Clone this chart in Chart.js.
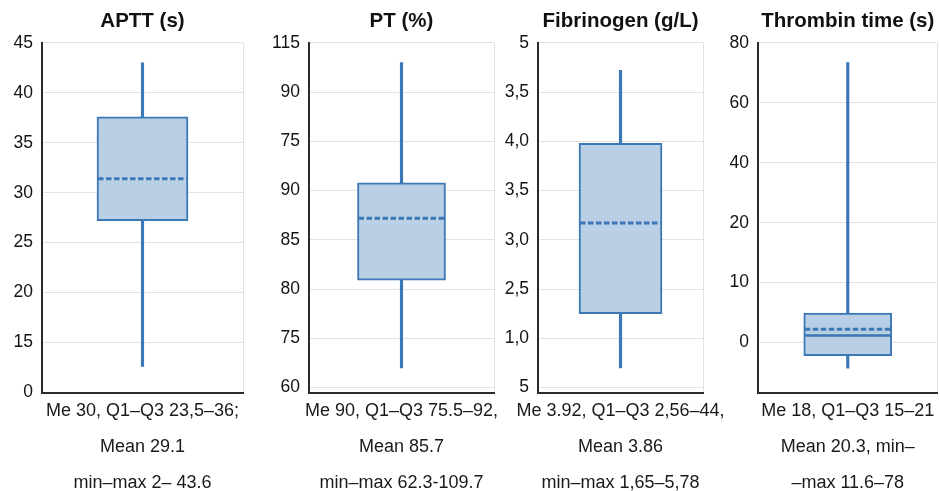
<!DOCTYPE html>
<html><head><meta charset="utf-8">
<script src="https://cdn.jsdelivr.net/npm/chart.js@4.4.0/dist/chart.umd.min.js"></script>
<style>
html,body{margin:0;padding:0;background:#fff;}
#wrap{position:relative;width:940px;height:491px;background:#fff;}
canvas{position:absolute;left:0;top:0;}
</style></head><body>
<div id="wrap">
<canvas id="c0" width="940" height="491"></canvas>
<canvas id="c1" width="940" height="491"></canvas>
<canvas id="c2" width="940" height="491"></canvas>
<canvas id="c3" width="940" height="491"></canvas>
</div>
<script>
// ---- data ----
const titles = ['APTT (s)', 'PT (%)', 'Fibrinogen (g/L)', 'Thrombin time (s)'];
const whiskerLow  = [12.6, 72.0, 1.70, -4.27];
const q1Values    = [27.2, 80.9, 2.25, -2.17];
const q3Values    = [37.6, 90.8, 3.98, 4.9];
const whiskerHigh = [43.0, 103.0, 4.72, 46.7];
const meanValues  = [31.4, 87.2, 3.17, 2.23];
const medianValues = [null, null, null, 1.17];
const captions = [
  ['Me 30, Q1\u2013Q3 23,5\u201336;', 'Mean 29.1', 'min\u2013max 2\u2013 43.6'],
  ['Me 90, Q1\u2013Q3 75.5\u201392,', 'Mean 85.7', 'min\u2013max 62.3-109.7'],
  ['Me 3.92, Q1\u2013Q3 2,56\u201344,', 'Mean 3.86', 'min\u2013max 1,65\u20135,78'],
  ['Me 18, Q1\u2013Q3 15\u201321', 'Mean 20.3, min\u2013', '\u2013max 11.6\u201378']
];
// tick values (scale units, bottom to top) and the labels printed at them
const tickValues = [
  [10, 15, 20, 25, 30, 35, 40, 45],
  [70, 75, 80, 85, 90, 95, 100, 105],
  [1.5, 2.0, 2.5, 3.0, 3.5, 4.0, 4.5, 5.0],
  [0, 10, 20, 30, 40, 50]
];
const tickLabels = [
  ['0', '15', '20', '25', '30', '35', '40', '45'],
  ['60', '75', '80', '85', '90', '75', '90', '115'],
  ['5', '1,0', '2,5', '3,0', '3,5', '4,0', '3,5', '5'],
  ['0', '10', '20', '40', '60', '80']
];
const axisMin = [10, 69.5, 1.45, -8.33];
const axisMax = [45, 105, 5.0, 50];

// ---- layout / style ----
const plotLeft  = [42, 309, 538, 758];
const plotRight = [243, 494, 703, 937.5];
const boxWidth  = [91, 88, 83, 88];
const BLUE = '#3b78b5';
const FILL = '#b9cfe5';
const GRID = '#e2e2e2';
const AXIS = '#2b2b2b';
const FONT = "'Liberation Sans', Arial, Helvetica, sans-serif";

const boxLines = {
  id: 'boxLines',
  afterDatasetsDraw(chart, args, opts) {
    const bar = chart.getDatasetMeta(0).data[0];
    if (!bar) return;
    const {x, width} = bar.getProps(['x', 'width'], true);
    const ys = chart.scales.y;
    const ctx = chart.ctx;
    const l = x - width / 2 + 1, r = x + width / 2 - 1;
    ctx.save();
    ctx.strokeStyle = BLUE;
    if (opts.median !== null && opts.median !== undefined) {
      const y = ys.getPixelForValue(opts.median);
      ctx.lineWidth = 2.5;
      ctx.setLineDash([]);
      ctx.beginPath(); ctx.moveTo(l, y); ctx.lineTo(r, y); ctx.stroke();
    }
    const ym = ys.getPixelForValue(opts.mean);
    ctx.lineWidth = 3;
    ctx.setLineDash([5.5, 2.5]);
    ctx.beginPath(); ctx.moveTo(l, ym); ctx.lineTo(r, ym); ctx.stroke();
    ctx.restore();
  }
};

for (let i = 0; i < 4; i++) {
  new Chart(document.getElementById('c' + i), {
    type: 'bar',
    data: {
      labels: [captions[i]],
      datasets: [
        {
          data: [[q1Values[i], q3Values[i]]],
          backgroundColor: FILL,
          borderColor: BLUE,
          borderWidth: 2,
          borderSkipped: false,
          barThickness: boxWidth[i],
          grouped: false
        },
        {
          data: [[whiskerLow[i], whiskerHigh[i]]],
          backgroundColor: BLUE,
          borderWidth: 0,
          barThickness: 2.5,
          grouped: false
        }
      ]
    },
    options: {
      responsive: false,
      animation: false,
      events: [],
      layout: { padding: { left: plotLeft[i] - 40, right: 940 - plotRight[i], top: 0, bottom: 0 } },
      plugins: {
        legend: { display: false },
        tooltip: { enabled: false },
        title: {
          display: true, text: titles[i], fullSize: false,
          color: '#111', font: { family: FONT, size: 20.5, weight: 'bold', lineHeight: 1.1 },
          padding: { top: 10, bottom: 10.3 }
        },
        boxLines: { mean: meanValues[i], median: medianValues[i] }
      },
      scales: {
        x: {
          offset: true,
          grid: { display: true, offset: true, color: GRID, drawTicks: false },
          border: { display: true, color: AXIS, width: 2 },
          ticks: {
            color: '#1a1a1a', padding: 1, maxRotation: 0, minRotation: 0, autoSkip: false,
            font: { family: FONT, size: 18, lineHeight: 2.0 }
          },
          afterFit: s => { s.height = 98.5; }
        },
        y: {
          min: axisMin[i], max: axisMax[i],
          grid: { color: GRID, drawTicks: false },
          border: { display: true, color: AXIS, width: 2 },
          afterBuildTicks: s => { s.ticks = tickValues[i].map(v => ({ value: v })); },
          ticks: {
            color: '#141414', padding: 9,
            font: { family: FONT, size: 17.5 },
            callback: (v, idx) => tickLabels[i][idx]
          },
          afterFit: s => { s.width = 40; }
        }
      }
    },
    plugins: [boxLines]
  });
}
</script>
</body></html>
